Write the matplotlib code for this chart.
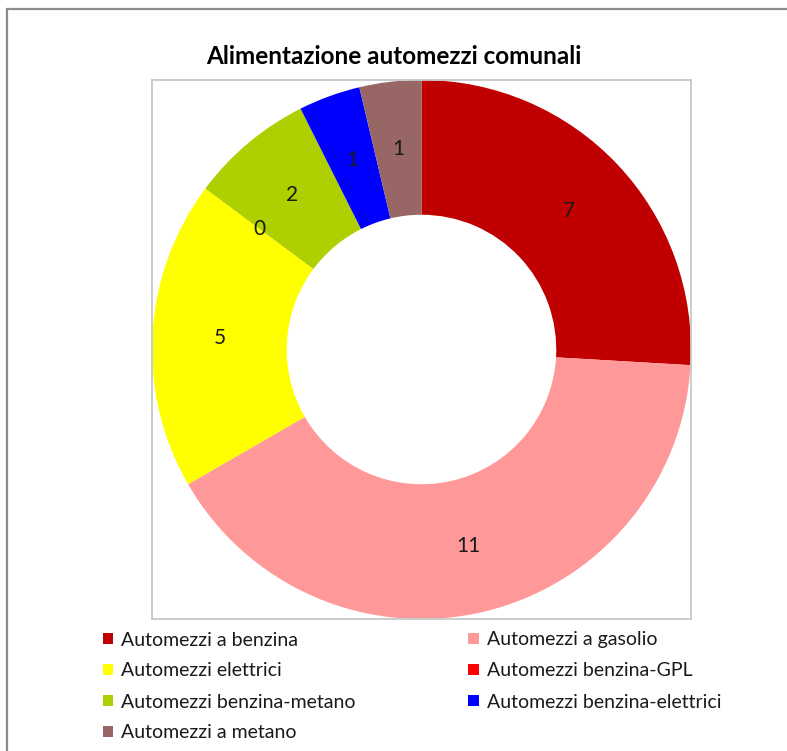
import matplotlib
matplotlib.use('Agg')
from matplotlib import pyplot as plt
from matplotlib.patches import Rectangle

categories = ['Automezzi a benzina', 'Automezzi a gasolio', 'Automezzi elettrici',
              'Automezzi benzina-GPL', 'Automezzi benzina-metano',
              'Automezzi benzina-elettrici', 'Automezzi a metano']
values = [7, 11, 5, 0, 2, 1, 1]
colors = ['#C00000', '#FF9999', '#FFFF00', '#FF0000', '#AECF00', '#0000FF', '#996666']
title = 'Alimentazione automezzi comunali'

plt.rcParams['font.family'] = ['Lato', 'DejaVu Sans']

fig = plt.figure(figsize=(7.87, 7.51), dpi=100)
W, H = 787, 751

# outer chart border (cropped on right/bottom)
fig.patches.append(Rectangle((7 / W, -0.1), 1.2, 1 - 9 / H + 0.1, transform=fig.transFigure,
                             fill=False, edgecolor='#8C8C8C', linewidth=1.6))

ax = fig.add_axes([151 / W, 1 - 619 / H, 541 / W, 539 / H])
wedges, texts = ax.pie(values, colors=colors, startangle=90, counterclock=False,
                       labels=[str(v) for v in values], labeldistance=0.75,
                       radius=1.0, wedgeprops=dict(width=0.5, linewidth=0),
                       textprops=dict(fontsize=15, color='#1a1a1a'))
for t in texts:
    t.set_horizontalalignment('center')
    t.set_verticalalignment('center')
ax.set_xlim(-1.0, 1.0)
ax.set_ylim(-1.0, 1.0)
ax.set_frame_on(True)
for s in ax.spines.values():
    s.set_edgecolor('#C8C8C8')
    s.set_linewidth(1.3)

fig.text(394 / W, 1 - 57 / H, title, ha='center', va='center', fontsize=17.5, fontweight='bold')

# row-major order for two-column legend
order = [0, 2, 4, 6, 1, 3, 5]
leg = fig.legend([wedges[i] for i in order], [categories[i] for i in order],
                 ncol=2, loc='upper left', bbox_to_anchor=(85 / W, 1 - 614 / H),
                 frameon=False, fontsize=14, handlelength=0.55, handleheight=0.55,
                 handletextpad=0.4, columnspacing=5.8, labelspacing=0.72)
for t in leg.get_texts():
    t.set_color('#1a1a1a')

fig.savefig('out.png', dpi=100)
